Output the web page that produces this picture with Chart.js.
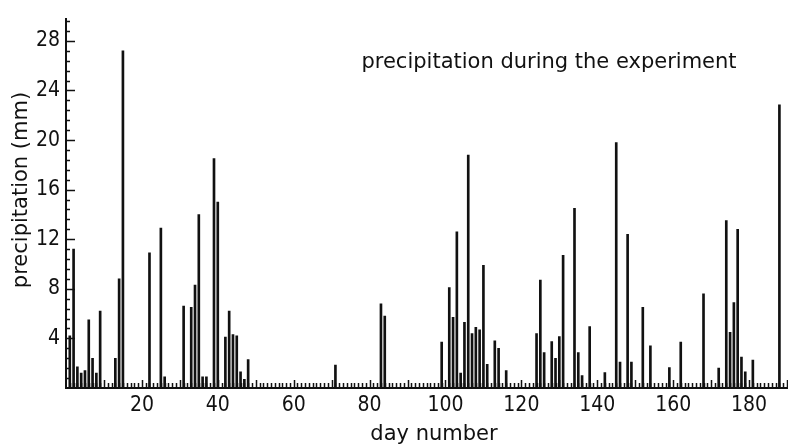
<!DOCTYPE html>
<html lang="en">
<head>
<meta charset="UTF-8">
<title>Precipitation during the experiment</title>
<script src="https://cdn.jsdelivr.net/npm/chart.js"></script>
<style>
    body {
        margin: 0;
        background: #fff;
    }

    .chart-box {
        position: relative;
        width: 788px;
        height: 447px;
    }
</style>
</head>
<body>
<div class="chart-box"><canvas id="rainChart"></canvas></div>

<script>
    // daily precipitation (mm), only the days with rain
    const days = [1, 2, 3, 4, 5, 6, 7, 8, 9, 13, 14, 15, 22, 25, 26, 31, 33, 34, 35, 36, 37, 39, 40,
        42, 43, 44, 45, 46, 47, 48, 71, 83, 84, 99, 101, 102, 103, 104, 105, 106, 107, 108, 109,
        110, 111, 113, 114, 116, 124, 125, 126, 128, 129, 130, 131, 134, 135, 136, 138, 142, 145,
        146, 148, 149, 152, 154, 159, 162, 168, 172, 174, 175, 176, 177, 178, 179, 181, 188];
    const rainMm = [4.2, 11.2, 1.7, 1.2, 1.4, 5.5, 2.4, 1.2, 6.2, 2.4, 8.8, 27.2, 10.9, 12.9, 0.9,
        6.6, 6.5, 8.3, 14.0, 0.9, 0.9, 18.5, 15.0, 4.1, 6.2, 4.3, 4.2, 1.3, 0.7, 2.3, 1.85, 6.8, 5.8,
        3.7, 8.1, 5.7, 12.6, 1.2, 5.3, 18.8, 4.4, 4.9, 4.7, 9.9, 1.9, 3.8, 3.2, 1.4, 4.4, 8.7, 2.85,
        3.75, 2.4, 4.15, 10.7, 14.5, 2.85, 1.0, 4.95, 1.25, 19.8, 2.1, 12.4, 2.1, 6.5, 3.4, 1.65,
        3.7, 7.6, 1.6, 13.5, 4.5, 6.9, 12.8, 2.5, 1.3, 2.25, 22.85];

    const xTickValues = [20, 40, 60, 80, 100, 120, 140, 160, 180];
    const yTickValues = [4, 8, 12, 16, 20, 24, 28];

    const ink = '#111';
    const textFont = "'DejaVu Sans', sans-serif";
    const tickFont = "'DejaVu Sans Condensed', 'Liberation Sans', sans-serif";

    // ruler style ticks drawn into the plot: one per day, one per 0.8 mm
    const rulerTicks = {
        id: 'rulerTicks',
        afterDatasetsDraw(chart) {
            const { ctx, chartArea, scales: { x, y } } = chart;
            ctx.save();
            ctx.strokeStyle = ink;
            ctx.lineWidth = 1.5;
            ctx.beginPath();
            for (let d = 1; d <= x.max; d++) {
                const px = Math.round(x.getPixelForValue(d)) + 0.5;
                const len = d % 10 === 0 ? 8 : 5;
                ctx.moveTo(px, chartArea.bottom + 1);
                ctx.lineTo(px, chartArea.bottom - len);
            }
            for (let i = 1; i * 0.8 <= y.max; i++) {
                const py = Math.round(y.getPixelForValue(i * 0.8)) + 0.5;
                const len = i % 5 === 0 ? 9 : 4;
                ctx.moveTo(chartArea.left, py);
                ctx.lineTo(chartArea.left + len, py);
            }
            ctx.stroke();
            ctx.restore();
        }
    };

    // axis captions and the heading inside the plot
    const captions = {
        id: 'captions',
        afterDraw(chart) {
            const ctx = chart.ctx;
            ctx.save();
            ctx.fillStyle = ink;
            ctx.font = '21px ' + textFont;
            ctx.textAlign = 'center';
            ctx.textBaseline = 'alphabetic';
            ctx.fillText('precipitation during the experiment', 549, 68);
            ctx.fillText('day number', 434, 440);
            ctx.translate(26.5, 190);
            ctx.rotate(-Math.PI / 2);
            ctx.fillText('precipitation (mm)', 0, 0);
            ctx.restore();
        }
    };

    const ctx = document.getElementById('rainChart').getContext('2d');
    new Chart(ctx, {
        type: 'bar',
        data: {
            datasets: [{
                data: days.map((d, i) => ({ x: d, y: rainMm[i] })),
                backgroundColor: ink,
                barThickness: 2
            }]
        },
        options: {
            responsive: true,
            maintainAspectRatio: false,
            animation: false,
            layout: { padding: { top: 10, right: 1, left: 0, bottom: 0 } },
            plugins: {
                legend: { display: false },
                tooltip: { enabled: false }
            },
            scales: {
                x: {
                    type: 'linear',
                    min: 0,
                    max: 190,
                    offset: false,
                    grid: { display: false, drawTicks: false },
                    border: { display: true, color: ink, width: 2 },
                    afterBuildTicks: scale => {
                        scale.ticks = xTickValues.map(v => ({ value: v }));
                    },
                    afterFit: scale => { scale.height = 59; },
                    ticks: {
                        autoSkip: false,
                        maxRotation: 0,
                        padding: 5,
                        color: ink,
                        font: { family: tickFont, size: 21 }
                    }
                },
                y: {
                    min: 0,
                    max: 29.8,
                    grid: { display: false, drawTicks: false },
                    border: { display: true, color: ink, width: 2 },
                    afterBuildTicks: scale => {
                        scale.ticks = yTickValues.map(v => ({ value: v }));
                    },
                    afterFit: scale => { scale.width = 66; },
                    ticks: {
                        padding: 6,
                        color: ink,
                        font: { family: tickFont, size: 21 }
                    }
                }
            }
        },
        plugins: [rulerTicks, captions]
    });
</script>
</body>
</html>
